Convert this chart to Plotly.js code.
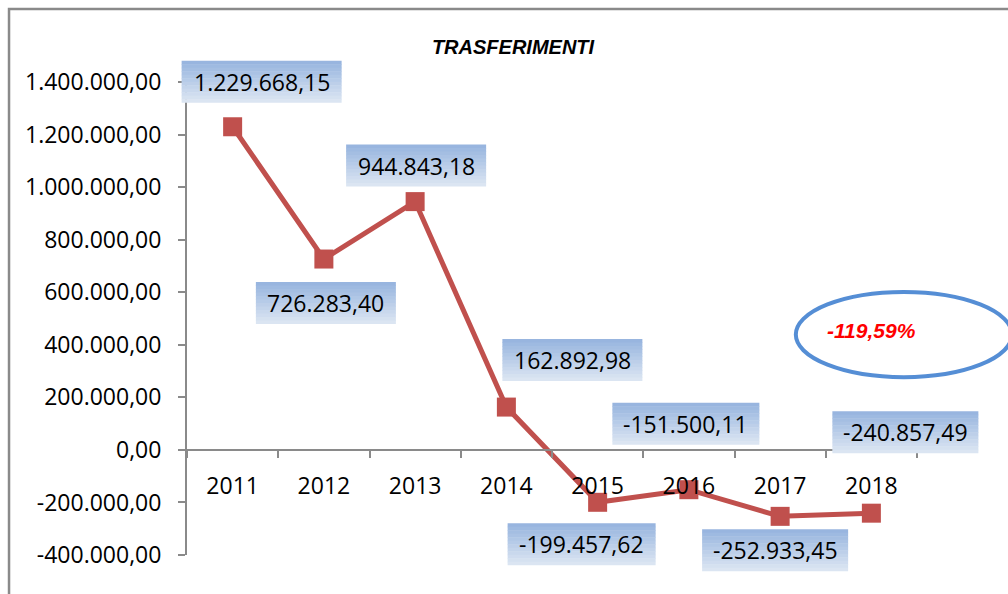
<!DOCTYPE html>
<html>
<head>
<meta charset="utf-8">
<script src="https://cdn.plot.ly/plotly-3.0.1.min.js"></script>
<style>html,body{margin:0;padding:0;background:#fff;}#chart{width:1008px;height:594px;}</style>
</head>
<body>
<div id="chart"></div>
<script>
// ---- data ----
var years = ['2011','2012','2013','2014','2015','2016','2017','2018'];
var values = [1229668.15, 726283.40, 944843.18, 162892.98, -199457.62, -151500.11, -252933.45, -240857.49];
var yTickVals = [-400000, -200000, 0, 200000, 400000, 600000, 800000, 1000000, 1200000, 1400000];
var chartTitle = 'TRASFERIMENTI';
var noteText = '-119,59%';

// ---- label box placement (pixel offsets from each point: dx right, dy down; box width) ----
var boxDx = [29, 2, 1, 66, -16, -3, -5, 34];
var boxDy = [-45, 44, -36, -47, 42, -66, 34, -81];
var boxW  = [160, 140, 140, 140, 148, 147, 146, 146];
var boxH = 42;

function fmt(v) {
  var neg = v < 0;
  var a = Math.abs(v);
  var s = a.toFixed(2);
  var parts = s.split('.');
  var intp = parts[0].replace(/\B(?=(\d{3})+(?!\d))/g, '.');
  return (neg ? '-' : '') + intp + ',' + parts[1];
}

var W = 1008, H = 594;
var M = {l: 187, r: 91, t: 82, b: 39, pad: 0};
var yRange = [-400000, 1400000];
var plotW = W - M.l - M.r, plotH = H - M.t - M.b;
var ySpan = yRange[1] - yRange[0];
var nCat = years.length;

var font = 'Open Sans, Liberation Sans, sans-serif';
var grey = '#8a8a8a';

var trace = {
  x: years, y: values, type: 'scatter', mode: 'lines+markers',
  line: {color: '#C0504D', width: 5},
  marker: {symbol: 'square', size: 19, color: '#C0504D'},
  hoverinfo: 'skip', showlegend: false
};

var shapes = [];
var annotations = [];

// outer chart-area border
shapes.push({type: 'path', xref: 'paper', yref: 'paper',
  path: 'M -0.2438,-0.2 L -0.2438,1.1543 L 1.2,1.1543',
  line: {color: grey, width: 2.5}, layer: 'below'});

// gradient label boxes (stacked stripes, offset from each data point; paper refs so they are not clipped)
var gradTop = [149, 179, 222], gradBot = [222, 231, 243];
var N = 12, sh = boxH / N;
for (var i = 0; i < nCat; i++) {
  var px = (i + 0.5) / nCat;                       // paper x of category centre
  var py = (values[i] - yRange[0]) / ySpan;        // paper y of data value
  var xa = px + (boxDx[i] - boxW[i]/2) / plotW;
  var xb = px + (boxDx[i] + boxW[i]/2) / plotW;
  var cy = -boxDy[i];                               // pixel offset upward of box centre
  for (var k = 0; k < N; k++) {
    var t = (k + 0.5) / N;                          // k = 0 is the top stripe
    var c = 'rgb(' + Math.round(gradTop[0] + (gradBot[0]-gradTop[0])*t) + ',' +
      Math.round(gradTop[1] + (gradBot[1]-gradTop[1])*t) + ',' +
      Math.round(gradTop[2] + (gradBot[2]-gradTop[2])*t) + ')';
    var upTop = cy + boxH/2 - k*sh;
    var upBot = cy + boxH/2 - (k+1)*sh - (k < N-1 ? 0.5 : 0);
    shapes.push({type: 'rect', layer: 'above', xref: 'paper', yref: 'paper',
      x0: xa, x1: xb, y0: py + upBot / plotH, y1: py + upTop / plotH,
      fillcolor: c, line: {width: 0}});
  }
  annotations.push({x: i, y: values[i], xref: 'x', yref: 'y', showarrow: false,
    text: fmt(values[i]), xshift: boxDx[i], yshift: -boxDy[i],
    font: {family: font, size: 23, color: '#000'}});
}

// ellipse note
shapes.push({type: 'circle', xref: 'paper', yref: 'paper', x0: 0.834, x1: 1.13, y0: 0.376, y1: 0.556,
  line: {color: '#558ED5', width: 4}, fillcolor: 'rgba(0,0,0,0)', layer: 'above'});
annotations.push({xref: 'paper', yref: 'paper', x: 1.0014, y: 0.474, showarrow: false,
  text: '<b><i>' + noteText + '</i></b>', font: {family: 'Liberation Sans, Arial, sans-serif', size: 21, color: '#FF0000'}});

var layout = {
  width: W, height: H,
  margin: M,
  paper_bgcolor: '#fff', plot_bgcolor: '#fff',
  title: {text: '<b><i>' + chartTitle + '</i></b>', x: 513/1008, xanchor: 'center', xref: 'container',
    y: 1 - 47/594, yanchor: 'middle', font: {family: 'Liberation Sans, Arial, sans-serif', size: 20, color: '#000'}},
  xaxis: {type: 'category', categoryorder: 'array', categoryarray: years,
    range: [-0.5, nCat - 0.5], anchor: 'free', position: (0 - yRange[0]) / ySpan,
    showline: true, linecolor: grey, linewidth: 2,
    ticks: 'outside', tickson: 'boundaries', ticklen: 7, tickwidth: 2, tickcolor: grey,
    ticklabelstandoff: 16,
    showgrid: false, zeroline: false,
    tickfont: {family: font, size: 23, color: '#000'}, fixedrange: true},
  yaxis: {range: yRange, tickmode: 'array', tickvals: yTickVals,
    ticktext: yTickVals.map(fmt),
    showline: true, linecolor: grey, linewidth: 2,
    ticks: 'outside', ticklen: 7, tickwidth: 2, tickcolor: grey,
    ticklabelstandoff: 12,
    showgrid: false, zeroline: false,
    tickfont: {family: font, size: 23, color: '#000'}, fixedrange: true},
  shapes: shapes,
  annotations: annotations,
  showlegend: false
};

Plotly.newPlot('chart', [trace], layout, {displayModeBar: false, staticPlot: true});
</script>
</body>
</html>
